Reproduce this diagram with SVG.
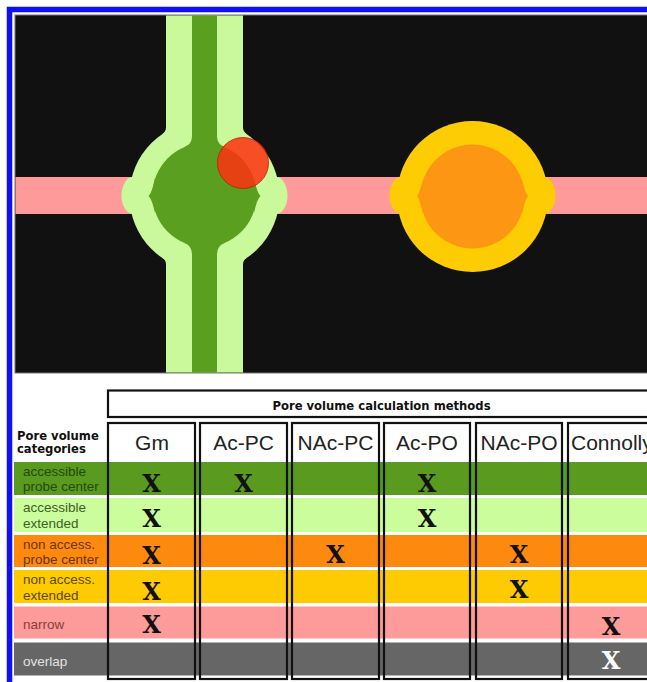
<svg xmlns="http://www.w3.org/2000/svg" width="647" height="682" viewBox="0 0 647 682">
  <style>
    .lbl { font-family: "Liberation Sans", Arial, sans-serif; font-size: 13.5px; }
    .hdr { font-family: "DejaVu Sans", sans-serif; font-weight: bold; font-size: 11.6px; fill: #111; }
    .col { font-family: "Liberation Sans", Arial, sans-serif; font-size: 21px; fill: #222; text-anchor: middle; }
    .x { font-family: "DejaVu Serif", "Liberation Serif", serif; font-weight: bold; font-size: 24px; fill: #111; text-anchor: middle; }
    .box { fill: none; stroke: #111; stroke-width: 2.2; }
    .lg { fill: #c9f99b; }
    .dg { fill: #5a9f1f; }
    .yl { fill: #fecc02; }
    .or { fill: #fd9713; }
  </style>

  <rect width="647" height="682" fill="#fff"/>

  <!-- frame -->
  <path d="M9.5,682 V9.5 H647" fill="none" stroke="#1010f0" stroke-width="5.5"/>

  <!-- scene -->
  <g id="scene">
    <rect x="15" y="15" width="640" height="358" fill="#111" stroke="#777" stroke-width="1"/>
    <!-- horizontal narrow channel -->
    <rect x="15.5" y="177" width="640" height="37" fill="#fe9a9a"/>

    <!-- accessible pore with channel -->
    <g id="pore-accessible">
      <rect class="lg" x="166" y="15.5" width="77" height="357"/>
      <circle class="lg" cx="204.5" cy="196" r="75"/>
      <ellipse class="lg" cx="133" cy="195.5" rx="11.5" ry="18.5"/>
      <ellipse class="lg" cx="276" cy="195.5" rx="11.5" ry="18.5"/>
      <path class="lg" d="M166,127.25 A8,8 0 0 1 162.5,133.9 L166,133.9 Z M243,127.25 A8,8 0 0 0 246.5,133.9 L243,133.9 Z M166,264.75 A8,8 0 0 0 162.5,258.1 L166,258.1 Z M243,264.75 A8,8 0 0 1 246.5,258.1 L243,258.1 Z"/>

      <rect class="dg" x="192" y="15.5" width="25" height="357"/>
      <circle class="dg" cx="204.5" cy="195" r="52"/>
      <path class="dg" d="M155,178 Q152,193 148.5,196 Q152,199 155,213 Z M254,178 Q257,193 260.5,196 Q257,199 254,213 Z"/>
      <path class="dg" d="M192,135.9 A12,12 0 0 1 184.6,147 L192,147 Z M217,135.9 A12,12 0 0 0 224.4,147 L217,147 Z M192,254.1 A12,12 0 0 0 184.6,243 L192,243 Z M217,254.1 A12,12 0 0 1 224.4,243 L217,243 Z"/>
    </g>

    <!-- probe sphere -->
    <circle id="probe" cx="243" cy="163" r="25.5" fill="#ff3010" fill-opacity="0.85" stroke="#b82010" stroke-width="0.8"/>

    <!-- non-accessible pore -->
    <g id="pore-nonaccessible">
      <circle class="yl" cx="472.5" cy="196.5" r="75.5"/>
      <ellipse class="yl" cx="401" cy="195.5" rx="11.5" ry="18.5"/>
      <ellipse class="yl" cx="544" cy="195.5" rx="11.5" ry="18.5"/>
      <circle class="or" cx="472.5" cy="196.5" r="52"/>
      <path class="or" d="M423,179 Q420,193 417,196 Q420,200 423,214 Z M522,179 Q525,193 528,196 Q525,200 522,214 Z"/>
    </g>
  </g>

  <!-- category rows -->
  <g id="rows">
    <rect x="14" y="462" width="640" height="33" fill="#5a9a1e"/>
    <rect x="14" y="498" width="640" height="34" fill="#ccfd9c"/>
    <rect x="14" y="535" width="640" height="32" fill="#fd8a0e"/>
    <rect x="14" y="570" width="640" height="33" fill="#fecb03"/>
    <rect x="14" y="606.5" width="640" height="32" fill="#fd9a9a"/>
    <rect x="14" y="642.5" width="640" height="33" fill="#666"/>
  </g>

  <g id="row-labels">
    <text class="hdr" x="17" y="440">Pore volume</text>
    <text class="hdr" x="17" y="453">categories</text>
    <text class="lbl" x="23" y="475.5" fill="#234a0c">accessible</text>
    <text class="lbl" x="23" y="490.5" fill="#234a0c">probe center</text>
    <text class="lbl" x="23" y="511.5" fill="#3b6226">accessible</text>
    <text class="lbl" x="23" y="527.5" fill="#3b6226">extended</text>
    <text class="lbl" x="23" y="548.5" fill="#6a3400">non access.</text>
    <text class="lbl" x="23" y="564" fill="#6a3400">probe center</text>
    <text class="lbl" x="23" y="584" fill="#5a4a00">non access.</text>
    <text class="lbl" x="23" y="600" fill="#5a4a00">extended</text>
    <text class="lbl" x="23" y="628.5" fill="#8a3c3c">narrow</text>
    <text class="lbl" x="23" y="665.5" fill="#e2e2e2">overlap</text>
  </g>

  <!-- method columns -->
  <g id="methods-header">
    <rect class="box" x="108" y="390.5" width="560" height="26.5"/>
    <text class="hdr" x="381.5" y="409.5" text-anchor="middle">Pore volume calculation methods</text>
  </g>

  <g id="col-gm">
    <rect class="box" x="108" y="423" width="87" height="256"/>
    <text class="col" x="152" y="450">Gm</text>
    <text class="x" x="151.5" y="491.5">X</text>
    <text class="x" x="151.5" y="527">X</text>
    <text class="x" x="151.5" y="563.5">X</text>
    <text class="x" x="151.5" y="600">X</text>
    <text class="x" x="151.5" y="632.5">X</text>
  </g>
  <g id="col-ac-pc">
    <rect class="box" x="200" y="423" width="87" height="256"/>
    <text class="col" x="243.5" y="450">Ac-PC</text>
    <text class="x" x="243.5" y="491.5">X</text>
  </g>
  <g id="col-nac-pc">
    <rect class="box" x="292" y="423" width="87" height="256"/>
    <text class="col" x="335.5" y="450">NAc-PC</text>
    <text class="x" x="335.5" y="563">X</text>
  </g>
  <g id="col-ac-po">
    <rect class="box" x="384" y="423" width="86" height="256"/>
    <text class="col" x="427" y="450">Ac-PO</text>
    <text class="x" x="427" y="492">X</text>
    <text class="x" x="427" y="527">X</text>
  </g>
  <g id="col-nac-po">
    <rect class="box" x="476" y="423" width="86" height="256"/>
    <text class="col" x="519" y="450">NAc-PO</text>
    <text class="x" x="519" y="563">X</text>
    <text class="x" x="519" y="598">X</text>
  </g>
  <g id="col-connolly">
    <rect class="box" x="568" y="423" width="100" height="256"/>
    <text class="col" x="571" y="450" style="text-anchor:start">Connolly</text>
    <text class="x" x="611" y="635">X</text>
    <text class="x" x="611" y="669" style="fill:#fff">X</text>
  </g>
</svg>
